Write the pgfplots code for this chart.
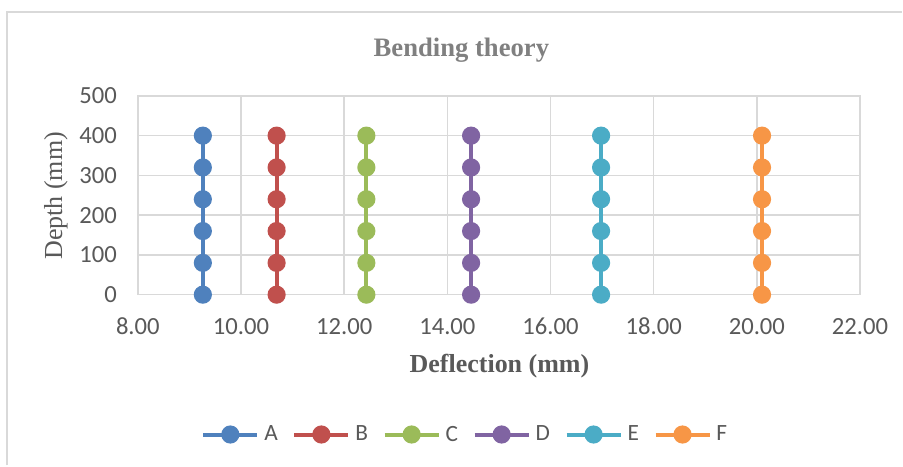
\documentclass[border=0pt]{standalone}
\usepackage{pgfplots}
\pgfplotsset{compat=1.18}
\usepackage{fontspec}
\setmainfont{Liberation Serif}
\newfontfamily\calibri{Carlito}

\definecolor{sA}{HTML}{4F81BD}
\definecolor{sB}{HTML}{C0504D}
\definecolor{sC}{HTML}{9BBB59}
\definecolor{sD}{HTML}{8064A2}
\definecolor{sE}{HTML}{4BACC6}
\definecolor{sF}{HTML}{F79646}
\definecolor{gridc}{HTML}{D9D9D9}
\definecolor{txt}{HTML}{595959}
\definecolor{ttl}{HTML}{808080}

\begin{document}
\begin{tikzpicture}
% page size and outer chart frame (left and top edges only are visible)
\path (0,0) rectangle (677.25pt,349.5pt);
\draw[gridc, line width=1.5pt] (5.25pt,0pt) -- (5.25pt,340.5pt) -- (677.25pt,340.5pt);

\begin{axis}[
  at={(103.5pt,128.25pt)}, anchor=south west,
  scale only axis,
  width=542.25pt, height=149.25pt,
  xmin=8, xmax=22, ymin=0, ymax=500,
  xtick={8,10,...,22}, ytick={0,100,...,500},
  xticklabel={\pgfmathprintnumber[fixed,fixed zerofill,precision=2]{\tick}},
  /pgf/number format/assume math mode=true,
  major tick length=0pt,
  grid=major,
  major grid style={gridc, line width=1.1pt},
  axis line style={gridc, line width=1.1pt},
  ticklabel style={font=\calibri\fontsize{18.5}{20}\selectfont, text=txt, inner sep=0pt},
  xticklabel style={anchor=center, yshift=-24pt},
  yticklabel style={anchor=east, xshift=-15.5pt},
  title={\textbf{Bending theory}},
  title style={at={(0.448,1.191)}, anchor=center, yshift=0pt, font=\fontsize{20}{22}\selectfont, text=ttl},
  xlabel={\textbf{Deflection (mm)}},
  xlabel style={at={(0.5007,-0.357)}, anchor=center, font=\fontsize{19.5}{22}\selectfont, text=txt},
  ylabel={Depth (mm)},
  ylabel style={at={(-0.1134,0.497)}, anchor=center, rotate=0, font=\fontsize{19.5}{22}\selectfont, text=txt},
  legend columns=6,
  legend style={at={(0.452,-0.7035)}, anchor=center, draw=none, fill=none,
    font=\calibri\fontsize{17.5}{19}\selectfont, text=txt,
    nodes={inner sep=0pt},
    /tikz/every odd column/.append style={column sep=3.75pt},
    /tikz/every even column/.append style={column sep=11pt}},
  legend image code/.code={\draw[mark repeat=2,mark phase=2] plot coordinates {(0pt,0pt)(20.25pt,0pt)(40.5pt,0pt)};},
  every axis plot/.append style={line width=3pt, mark=*, mark size=5.3pt, mark options={solid}},
  clip=false,
]
\addplot[sA] coordinates {(9.26,0) (9.26,80) (9.26,160) (9.26,240) (9.26,320) (9.26,400)};
\addlegendentry{A}
\addplot[sB] coordinates {(10.69,0) (10.69,80) (10.69,160) (10.69,240) (10.69,320) (10.69,400)};
\addlegendentry{B}
\addplot[sC] coordinates {(12.43,0) (12.43,80) (12.43,160) (12.43,240) (12.43,320) (12.43,400)};
\addlegendentry{C}
\addplot[sD] coordinates {(14.46,0) (14.46,80) (14.46,160) (14.46,240) (14.46,320) (14.46,400)};
\addlegendentry{D}
\addplot[sE] coordinates {(16.98,0) (16.98,80) (16.98,160) (16.98,240) (16.98,320) (16.98,400)};
\addlegendentry{E}
\addplot[sF] coordinates {(20.10,0) (20.10,80) (20.10,160) (20.10,240) (20.10,320) (20.10,400)};
\addlegendentry{F}
\end{axis}
\end{tikzpicture}
\end{document}
